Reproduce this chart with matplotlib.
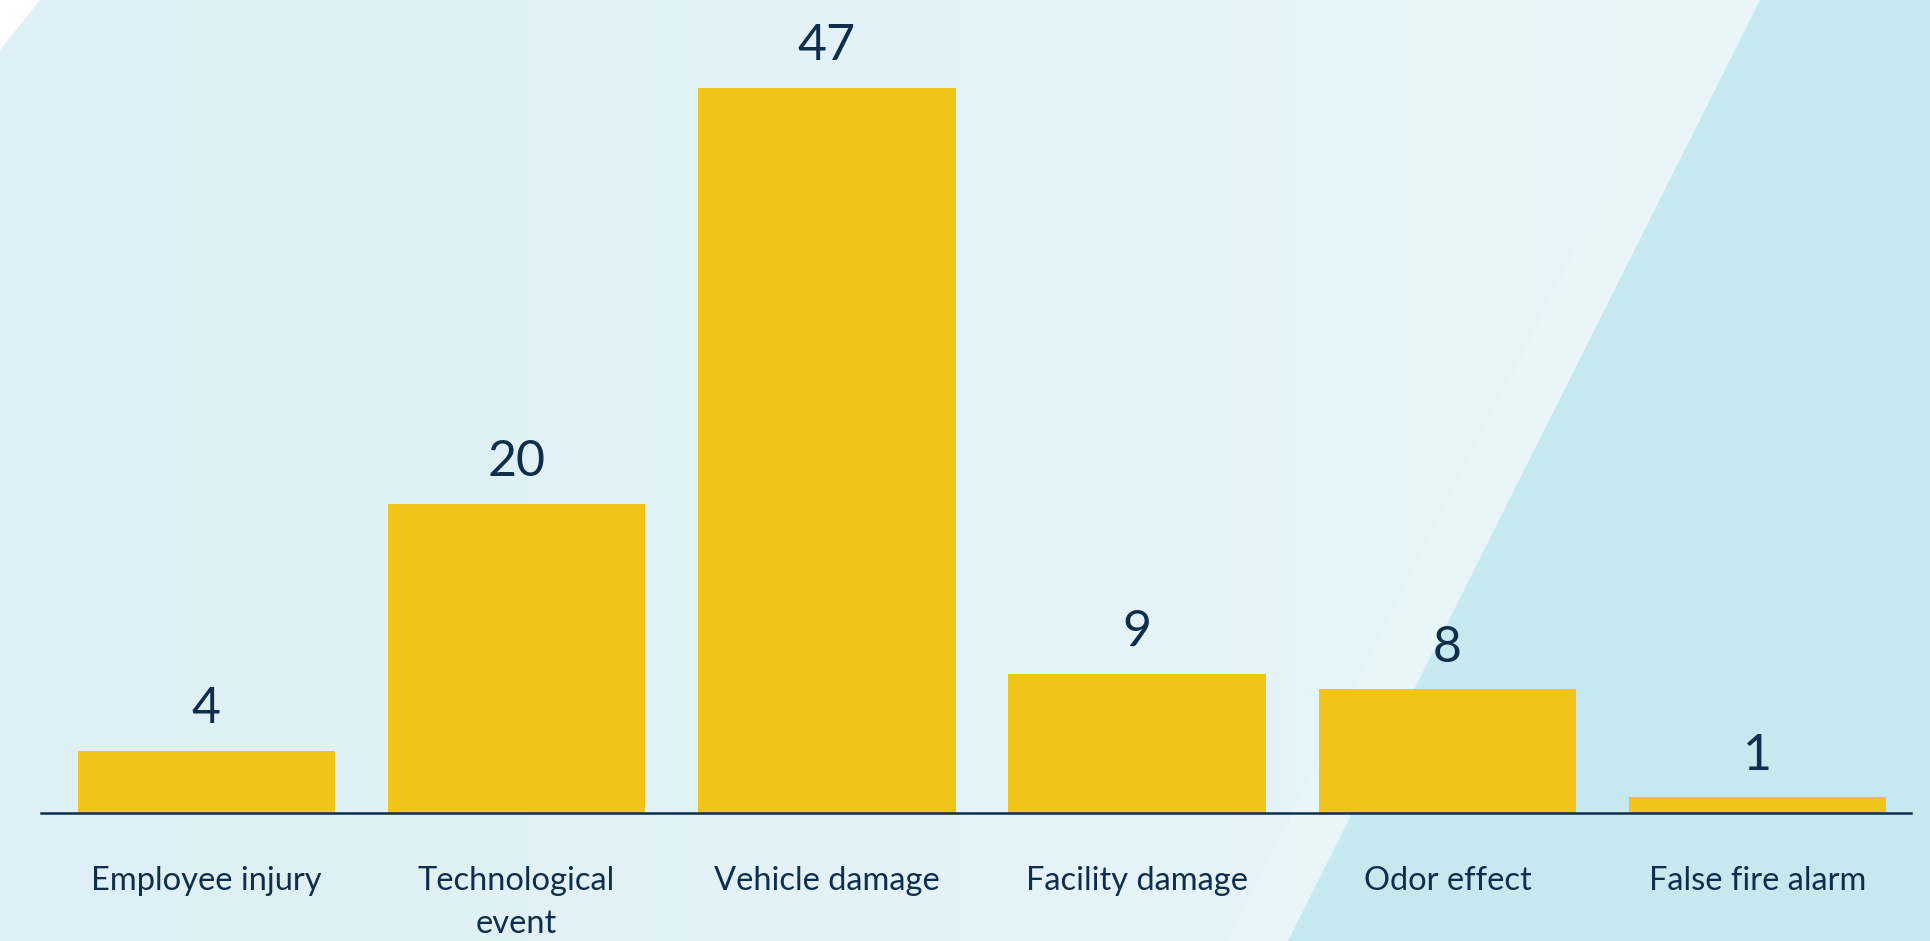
import matplotlib
matplotlib.use("Agg")
import matplotlib.pyplot as plt
from matplotlib.patches import Polygon
import numpy as np

# === DADOS ===
categorias = ["Employee injury", "Technological\nevent", "Vehicle damage",
              "Facility damage", "Odor effect", "False fire alarm"]
valores = [4, 20, 47, 9, 8, 1]

# === ESTILO ===
cor_barra = "#F0C419"
cor_texto = "#0E2E4B"
W, H = 1931, 941
plt.rcParams['font.family'] = ['Lato', 'DejaVu Sans']

fig = plt.figure(figsize=(W / 100, H / 100), dpi=100)

# fundo: gradiente + faixa diagonal a direita
bg = fig.add_axes([0, 0, 1, 1], zorder=0)
bg.set_xlim(0, W)
bg.set_ylim(H, 0)
bg.axis('off')
c1 = np.array([0xDE, 0xF0, 0xF5]) / 255
c2 = np.array([0xE9, 0xF6, 0xFA]) / 255
t = np.linspace(0, 1, 256)
grad = (c1[None, :] * (1 - t[:, None]) + c2[None, :] * t[:, None])[None, :, :]
bg.imshow(grad, extent=[0, W, H, 0], aspect='auto')
bg.add_patch(Polygon([[1700, 0], [1762, 0], [1290, H], [1228, H]],
                     closed=True, color="#EEF8FB", alpha=0.35, lw=0))
bg.add_patch(Polygon([[1760, 0], [W, 0], [W, H], [1288, H]],
                     closed=True, color="#C6E8EF", lw=0))
bg.add_patch(Polygon([[0, 0], [40, 0], [0, 50]], closed=True, color="white", lw=0))

# === GRAFICO ===
ax = fig.add_axes([40.6 / W, 1 - 812.8 / H, (1911 - 40.6) / W, 812.8 / H], zorder=1)
ax.patch.set_alpha(0)
x = np.arange(len(categorias))
barras = ax.bar(x, valores, width=0.83, color=cor_barra, zorder=2)
ax.bar_label(barras, padding=13.5, fontsize=36, color=cor_texto)

ax.set_xlim(-0.534, 5.494)
ax.set_ylim(0, 52.68)
ax.set_xticks(x)
ax.set_xticklabels(categorias, fontsize=23.5, color=cor_texto, linespacing=1.55)
ax.tick_params(axis='x', length=0, pad=38.5)
ax.set_yticks([])
for s in ['top', 'right', 'left']:
    ax.spines[s].set_visible(False)
ax.spines['bottom'].set_color(cor_texto)
ax.spines['bottom'].set_linewidth(1.8)

fig.savefig("out.png", dpi=100)
